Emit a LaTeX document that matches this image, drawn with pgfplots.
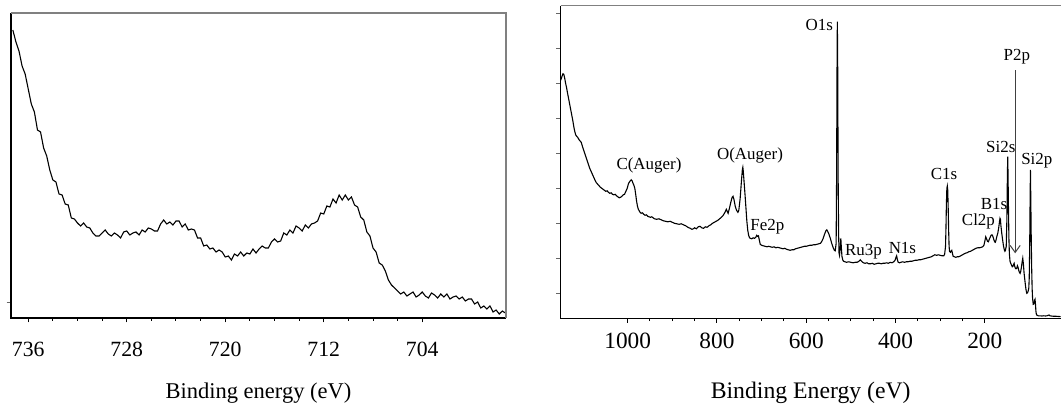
\documentclass[border=0pt]{standalone}
\usepackage{fontspec}
\setmainfont{Liberation Serif}
\usepackage{pgfplots}
\pgfplotsset{compat=1.18}
\usetikzlibrary{arrows.meta}

% one pixel of the reference = 0.5bp
\pgfplotsset{
  xps/.style={
    scale only axis,
    anchor=south west,
    clip mode=individual,
    axis line style={draw=none},
    x dir=reverse,
    xtick pos=bottom, ytick pos=left,
    tick align=outside,
    major tick length=2.2bp, minor tick length=1.4bp,
    every tick/.style={black, line width=0.5bp},
    minor x tick num=3,
    yticklabels={},
    y tick style={black!60, line width=0.4bp},
    /pgf/number format/assume math mode=true,
    /pgf/number format/1000 sep={},
  },
}

\begin{document}
\begin{tikzpicture}
\useasboundingbox (0,0) rectangle (531bp,202.5bp);

% ---------- left: Fe 2p region ----------
\begin{axis}[xps,
  at={(5.5bp,43.5bp)}, width=247.5bp, height=152.5bp,
  xmin=697.2, xmax=737.4, ymin=0, ymax=305,
  xtick={704,712,720,728,736},
  ytick={16},
  xticklabel style={font=\fontsize{10.9}{12}\selectfont, anchor=center, yshift=-13.3bp},
  xlabel={Binding energy (eV)},
  xlabel style={font=\fontsize{11.3}{13}\selectfont, at={(axis description cs:0.5,-0.246)}, anchor=center},
]
\addplot[black, line width=0.55bp] coordinates {
(737.25,288) (737.0,276) (736.75,267) (736.5,252) (736.25,244) (736.0,229)
(735.75,214) (735.5,206) (735.25,188) (735.0,186) (734.75,170) (734.5,162)
(734.25,148) (734.0,138) (733.75,136) (733.5,124) (733.25,123) (733.0,114)
(732.75,113) (732.5,100) (732.25,99) (732.0,95) (731.75,92) (731.5,95)
(731.25,91) (731.0,90) (730.75,85) (730.5,82) (730.25,82) (730.0,85)
(729.75,88) (729.5,84) (729.25,82) (729.0,85) (728.75,83) (728.5,80)
(728.25,86) (728.0,87) (727.75,83) (727.5,85) (727.25,86) (727.0,83)
(726.75,88) (726.5,86) (726.25,90) (726.0,89) (725.75,87) (725.5,87)
(725.25,94) (725.0,98) (724.75,94) (724.5,96) (724.25,93) (724.0,97)
(723.75,97) (723.5,91) (723.25,94) (723.0,88) (722.75,89) (722.5,88)
(722.25,80) (722.0,80) (721.75,72) (721.5,73) (721.25,69) (721.0,70)
(720.75,66) (720.5,68) (720.25,66) (720.0,61) (719.75,62) (719.5,58)
(719.25,64) (719.0,62) (718.75,66) (718.5,62) (718.25,65) (718.0,64)
(717.75,69) (717.5,65) (717.25,69) (717.0,72) (716.75,70) (716.5,70)
(716.25,76) (716.0,79) (715.75,76) (715.5,77) (715.25,85) (715.0,83)
(714.75,88) (714.5,85) (714.25,92) (714.0,90) (713.75,87) (713.5,93)
(713.25,90) (713.0,94) (712.75,95) (712.5,97) (712.25,105) (712.0,104)
(711.75,112) (711.5,111) (711.25,119) (711.0,115) (710.75,123) (710.5,118)
(710.25,123) (710.0,118) (709.75,121) (709.5,113) (709.25,111) (709.0,101)
(708.75,98) (708.5,86) (708.25,82) (708.0,70) (707.75,66) (707.5,55)
(707.25,53) (707.0,47) (706.75,38) (706.5,33) (706.25,30) (706.0,27)
(705.75,24) (705.5,26) (705.25,22) (705.0,24) (704.75,26) (704.5,21)
(704.25,23) (704.0,26) (703.75,22) (703.5,20) (703.25,25) (703.0,23)
(702.75,20) (702.5,24) (702.25,21) (702.0,24) (701.75,19) (701.5,21)
(701.25,22) (701.0,19) (700.75,21) (700.5,17) (700.25,19) (700.0,19)
(699.75,14) (699.5,16) (699.25,10) (699.0,12) (698.75,9) (698.5,12)
(698.25,6) (698.0,8) (697.75,4) (697.5,7) (697.25,5)
};
\draw[black, line width=0.55bp] (rel axis cs:0,1) -- (rel axis cs:0,0) -- (rel axis cs:1,0);
\draw[gray, line width=0.55bp] (rel axis cs:0,1) -- (rel axis cs:1,1) -- (rel axis cs:1,0);
\end{axis}

% ---------- right: survey spectrum ----------
\begin{axis}[xps,
  at={(280.35bp,43.35bp)}, width=250bp, height=156.3bp,
  xmin=30, xmax=1150, ymin=0, ymax=312.6,
  xtick={200,400,600,800,1000},
  ytick={25,60,95,130,164.5,199.5,234.5,269.5,304.5},
  xticklabel style={font=\fontsize{11.7}{13}\selectfont, anchor=center, yshift=-9bp},
  xlabel={Binding Energy (eV)},
  xlabel style={font=\fontsize{11.9}{13}\selectfont, at={(axis description cs:0.5,-0.238)}, anchor=center},
]
\addplot[black, line width=0.55bp] coordinates {
(1150,238) (1147,242) (1145,244.5) (1143,244) (1141,240) (1139,235) (1137,231)
(1135,226) (1132,219) (1129,212) (1126,205) (1123,198) (1120,190) (1118,186)
(1116,183) (1114,182) (1112,181) (1110,179.5) (1108,178) (1106,177) (1104,176)
(1102,173) (1100,170) (1097,166) (1094,162) (1091,158) (1088,154) (1085,150)
(1082,147) (1079,144) (1076,141) (1073,138) (1070,135.5) (1067,134) (1064,132.5)
(1061,131) (1058,130) (1055,129) (1052,128) (1049,127) (1046,127.5) (1043,126)
(1040,125) (1037,125.5) (1034,124) (1031,123.5) (1028,124) (1025,122.5)
(1022,121.5) (1019,120.5) (1016,121) (1013,122) (1010,123.5) (1007,124)
(1004,127) (1001,130) (998,135) (995,137) (992,138.5) (990,137.5) (988,135)
(986,133) (984,130) (982,124) (980,117) (978,112) (976,109) (973,106.5)
(970,105) (967,105.5) (964,104) (961,103) (958,103.5) (955,102) (952,101.5)
(949,101) (946,101.5) (943,100.5) (940,99.5) (935,99) (930,99.5) (925,98.5)
(920,97.5) (915,97) (910,96.5) (905,97) (900,96) (895,95) (890,94.5) (885,94)
(880,94.5) (875,93.5) (870,92.5) (865,91) (860,90) (856,89) (853,89.5)
(850,90.5) (846,89.5) (842,91.5) (838,92) (834,90.5) (830,90) (826,91.5)
(822,91) (818,92.5) (814,93.5) (810,95) (806,96) (802,97) (798,98) (794,99.5)
(790,101) (786,103) (782,106) (779,109) (777,107) (775,105) (772,110) (769,116)
(766,121) (764,122) (762,119) (759,112) (756,108) (753,106) (751,108) (748,120)
(745,138) (743,149) (742,151) (741,147) (739,135) (737,123) (735,110) (733,97)
(731,88) (729,83) (727,80.5) (725,80) (722,79.5) (719,80.5) (716,80) (713,81)
(711,83) (709,82) (707,82.5) (705,78) (703,74) (700,73) (696,72.5) (692,72)
(688,71.5) (684,72) (680,71.5) (676,71) (672,71.5) (668,70.5) (664,71)
(660,70.5) (656,70) (652,69.5) (648,70) (644,69) (640,68.5) (636,68) (632,68.5)
(628,68.5) (624,69.5) (620,70) (616,70.5) (612,71) (608,71.5) (604,72) (600,72)
(596,72.5) (592,73) (588,73) (584,73.5) (580,73.5) (576,74) (572,74.5) (568,75)
(565,77) (562,80) (559,84) (556,87.5) (554,88.5) (552,87) (549,84) (546,80)
(543,75) (540,71) (537,68) (535,67.5) (533,75) (532,140) (531,250) (530.3,296.7)
(529.5,250) (528.5,140) (527.5,85) (526.5,65) (525.5,63) (524,70) (522.5,80)
(521.5,72) (520,62) (518,58) (516,57) (513,56.5) (510,56) (505,56.5) (500,56)
(495,55.5) (490,56) (486,56) (482,57) (479,58.5) (476,57) (472,55.5) (468,55)
(464,55.5) (460,54.5) (456,54.5) (452,55) (448,54) (444,54.5) (440,55) (436,55)
(432,54.5) (428,55) (424,55) (420,55.5) (416,55) (412,56) (408,55.5) (404,56.5)
(401,58) (399,61) (397.5,62.5) (396,59) (394,56) (391,55.5) (388,56) (384,56.5)
(380,56) (376,56.5) (372,56.5) (368,57) (364,57) (360,57.5) (356,58) (352,58)
(348,58.5) (344,58.5) (340,59) (336,59.5) (332,60) (328,60.5) (324,61) (320,61.5)
(316,62.5) (312,63.5) (308,63) (304,63.5) (300,63) (296,62.5) (292,62.5) (290,64)
(288,72) (287,90) (286,115) (285,130) (284,132.3) (283,128) (282,110) (281,88)
(280,72) (279,67) (277,66) (275,67.5) (274,68) (273,66) (271,62) (268,61.5)
(265,61) (262,61.5) (259,61.5) (256,62) (252,63) (248,64) (244,65) (240,65.5)
(236,66.5) (232,67) (228,68) (224,69) (220,70) (216,70.5) (212,70.5) (208,71)
(205,71.5) (202,73) (200,77) (198,81.5) (196.5,80) (194,77) (192,76.5) (190,79)
(188,81) (186,83) (184,83.5) (182,82) (180,79) (178,76.5) (176.5,76) (175,78)
(173,82) (171,85) (169,90) (167,97) (166,100) (165,99) (164,93) (162,85)
(160,78) (158,72) (156,68) (155,67) (154,67.5) (152,72) (150.5,100) (149.5,140)
(148.7,161.7) (148,145) (147,110) (146,80) (145,65) (143.5,57) (142,55) (140,53)
(138.5,51.5) (137,52) (135.5,54) (134.3,55) (133,52) (131.5,50) (130,49.5)
(128.5,50) (127,52.5) (125.5,51) (124,48) (122.5,46) (121,45) (119.5,47)
(118,51) (116.5,56) (115,60) (113.5,54) (112,45) (110.5,39) (109,33) (107.5,28)
(106,25) (104.5,25.5) (103,27) (101.5,30) (100.5,40) (99.5,70) (98.7,110)
(97.8,148.3) (97,120) (96,80) (95,50) (94,30) (93,20) (91.5,14) (90,14.5)
(88.5,18) (87.5,19) (86.5,14) (85.5,7) (84.5,4) (83,3) (80,2.5) (76,2.5)
(72,2.3) (68,2.5) (64,2.3) (61,2.5) (58,3) (56,3.3) (54,2.5) (50,2.2) (45,2)
(40,2) (35,1.8) (30,1.7)
};
\draw[black, line width=0.55bp] (rel axis cs:0,1) -- (rel axis cs:0,0) -- (rel axis cs:1,0);
\draw[gray, line width=0.55bp] (rel axis cs:0,1) -- (rel axis cs:1,1);
\draw[black!75, line width=0.5bp, -{Straight Barb[length=3.5bp,width=5bp]}]
  (axis cs:132,248) -- (axis cs:132,65);
\begin{scope}[every node/.style={font=\fontsize{8.5}{10}\selectfont, inner sep=0pt, anchor=center}]
\node at (axis cs:570.6,293.3) {O1s};
\node at (axis cs:952.3,152.6) {C(Auger)};
\node at (axis cs:726,163.3) {O(Auger)};
\node at (axis cs:687.2,91.6) {Fe2p};
\node at (axis cs:472,66.6) {Ru3p};
\node at (axis cs:384.6,70) {N1s};
\node at (axis cs:291.2,144.3) {C1s};
\node at (axis cs:214.3,97.3) {Cl2p};
\node at (axis cs:179.2,114.3) {B1s};
\node at (axis cs:164.1,171.6) {Si2s};
\node at (axis cs:83.5,157.6) {Si2p};
\node at (axis cs:128.3,261.6) {P2p};
\end{scope}
\end{axis}
\end{tikzpicture}
\end{document}
